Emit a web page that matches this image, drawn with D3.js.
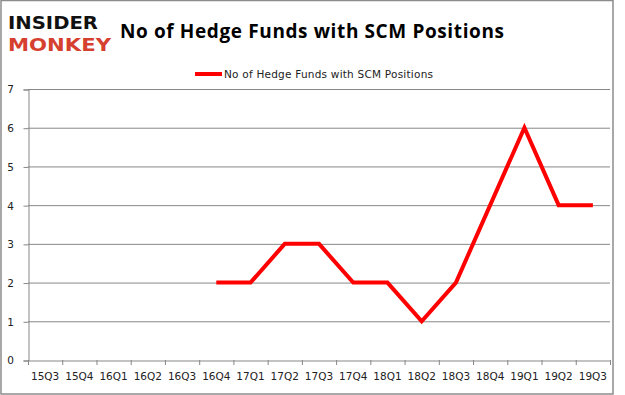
<!DOCTYPE html>
<html>
<head>
<meta charset="utf-8">
<script src="https://cdn.jsdelivr.net/npm/d3@7"></script>
<style>
body { margin: 0; background: #fff; }
</style>
</head>
<body>
<div id="chart"></div>
<script>
var quarters = ["15Q3","15Q4","16Q1","16Q2","16Q3","16Q4","17Q1","17Q2","17Q3","17Q4","18Q1","18Q2","18Q3","18Q4","19Q1","19Q2","19Q3"];
var funds = [null,null,null,null,null,2,2,3,3,2,2,1,2,4,6,4,4];
var yTicks = [0,1,2,3,4,5,6,7];

var width = 625, height = 395;
var plotLeft = 28, plotRight = 610, plotTop = 89, plotBottom = 360;

var svg = d3.select("#chart").append("svg")
  .attr("width", width)
  .attr("height", height);

// frame
svg.append("rect")
  .attr("x", 1).attr("y", 0.5)
  .attr("width", 612).attr("height", 393.5)
  .attr("fill", "none")
  .attr("stroke", "#8c8c8c")
  .attr("stroke-width", 1.5);

var x = d3.scaleBand().domain(quarters).range([plotLeft, plotRight]);
var y = d3.scaleLinear().domain([0, 7]).range([plotBottom, plotTop]);

// gridlines
svg.append("g").selectAll("line").data(yTicks.slice(1)).enter()
  .append("line")
  .attr("x1", plotLeft).attr("x2", plotRight)
  .attr("y1", function(d){ return y(d) + 0.5; })
  .attr("y2", function(d){ return y(d) + 0.5; })
  .attr("stroke", "#878787")
  .attr("stroke-width", 1);

var yAxis = svg.append("g")
  .attr("transform", "translate(" + (plotLeft + 0.5) + ",0.5)")
  .call(d3.axisLeft(y).tickValues(yTicks).tickFormat(d3.format("d")).tickSize(5).tickPadding(8));

var xAxis = svg.append("g")
  .attr("transform", "translate(0," + (plotBottom + 0.5) + ")")
  .call(d3.axisBottom(x).tickSize(0).tickPadding(12));

// category boundary ticks
svg.append("g").selectAll("line").data(quarters.concat(["end"])).enter()
  .append("line")
  .attr("x1", function(d, i){ return plotLeft + i * x.bandwidth() + 0.5; })
  .attr("x2", function(d, i){ return plotLeft + i * x.bandwidth() + 0.5; })
  .attr("y1", plotBottom).attr("y2", plotBottom + 5)
  .attr("stroke", "#878787");

[yAxis, xAxis].forEach(function(a){
  a.selectAll(".domain").attr("stroke", "#878787");
  a.selectAll(".tick line").attr("stroke", "#878787");
  a.selectAll("text")
    .attr("fill", "#222")
    .style("font-family", "'DejaVu Sans', sans-serif")
    .style("font-size", "10.5px");
});
yAxis.selectAll("text").attr("text-anchor", "middle").attr("dx", "-5px");

var line = d3.line()
  .defined(function(d){ return d !== null; })
  .x(function(d, i){ return x(quarters[i]) + x.bandwidth() / 2; })
  .y(function(d){ return y(d); });

svg.append("path")
  .datum(funds)
  .attr("d", line)
  .attr("fill", "none")
  .attr("stroke", "#ff0000")
  .attr("stroke-width", 4)
  .attr("stroke-linejoin", "miter");

// title
svg.append("text")
  .attr("x", 312).attr("y", 38)
  .attr("text-anchor", "middle")
  .style("font-family", "'Open Sans', 'Noto Sans', sans-serif")
  .style("font-weight", "bold")
  .style("font-size", "19px")
  .attr("textLength", 384)
  .text("No of Hedge Funds with SCM Positions");

// legend
svg.append("line")
  .attr("x1", 195).attr("x2", 222)
  .attr("y1", 74).attr("y2", 74)
  .attr("stroke", "#ff0000").attr("stroke-width", 4);
svg.append("text")
  .attr("x", 224).attr("y", 78)
  .style("font-family", "'DejaVu Sans', sans-serif")
  .style("font-size", "10.5px")
  .attr("fill", "#222")
  .attr("textLength", 209)
  .text("No of Hedge Funds with SCM Positions");

// logo
svg.append("text")
  .attr("x", 8).attr("y", 29)
  .style("font-family", "'DejaVu Sans', sans-serif")
  .style("font-weight", "bold")
  .style("font-size", "18px")
  .attr("textLength", 90)
  .attr("lengthAdjust", "spacingAndGlyphs")
  .attr("fill", "#111")
  .text("INSIDER");
svg.append("text")
  .attr("x", 8).attr("y", 51)
  .style("font-family", "'DejaVu Sans', sans-serif")
  .style("font-weight", "bold")
  .style("font-size", "18px")
  .attr("textLength", 103)
  .attr("lengthAdjust", "spacingAndGlyphs")
  .attr("fill", "#d6402e")
  .text("MONKEY");
</script>
</body>
</html>
